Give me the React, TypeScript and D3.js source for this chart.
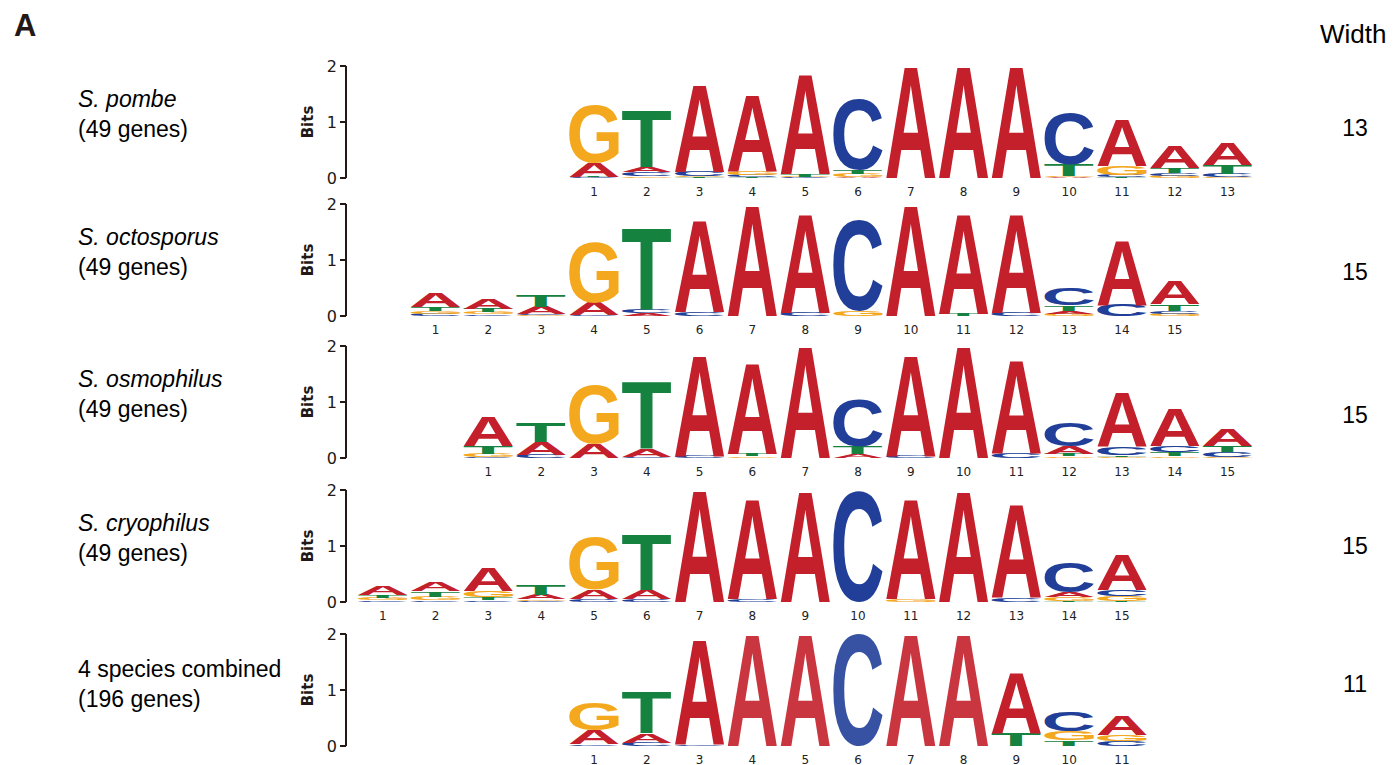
import React, { useMemo } from "react";
import * as d3 from "d3";

// bits per position, columns are [A, C, G, T]
const bases = ["A", "C", "G", "T"];
const baseColors: Record<string, string> = {
  A: "#c3202b",
  C: "#213f98",
  G: "#f4a81d",
  T: "#158240",
};

const pombeBits = [
  [0.25, 0.01, 1.03, 0.01],
  [0.1, 0.07, 0.03, 1.01],
  [1.55, 0.08, 0.02, 0.01],
  [1.36, 0.04, 0.07, 0.01],
  [1.78, 0.01, 0.01, 0.05],
  [0.02, 1.27, 0.06, 0.07],
  [1.99, 0, 0, 0],
  [1.99, 0, 0, 0],
  [1.99, 0, 0, 0],
  [0.01, 0.92, 0.03, 0.2],
  [0.83, 0.04, 0.15, 0.02],
  [0.4, 0.05, 0.04, 0.08],
  [0.4, 0.07, 0.01, 0.16],
];

const octosporusBits = [
  [0.26, 0.04, 0.05, 0.07],
  [0.18, 0.03, 0.04, 0.06],
  [0.13, 0.02, 0.01, 0.2],
  [0.23, 0.01, 1.08, 0],
  [0.05, 0.06, 0, 1.45],
  [1.65, 0.07, 0, 0],
  [1.98, 0, 0, 0],
  [1.77, 0.06, 0, 0],
  [0, 1.63, 0.08, 0],
  [1.98, 0, 0, 0],
  [1.78, 0, 0, 0.04],
  [1.77, 0.06, 0, 0],
  [0.05, 0.3, 0.04, 0.1],
  [1.17, 0.2, 0, 0],
  [0.41, 0.05, 0.04, 0.12],
];

const osmophilusBits = [
  [0.52, 0.01, 0.06, 0.14],
  [0.22, 0.06, 0, 0.35],
  [0.25, 0, 1.05, 0],
  [0.14, 0.02, 0, 1.21],
  [1.8, 0.04, 0, 0],
  [1.63, 0, 0.03, 0.04],
  [1.99, 0, 0, 0],
  [0.07, 0.85, 0, 0.14],
  [1.8, 0.04, 0, 0],
  [1.99, 0, 0, 0],
  [1.66, 0.08, 0, 0],
  [0.13, 0.41, 0.03, 0.04],
  [0.98, 0.15, 0.02, 0.03],
  [0.67, 0.11, 0.03, 0.07],
  [0.3, 0.08, 0.02, 0.11],
];

const cryophilusBits = [
  [0.15, 0.03, 0.04, 0.05],
  [0.17, 0.03, 0.06, 0.1],
  [0.42, 0.03, 0.11, 0.05],
  [0.08, 0.02, 0.03, 0.18],
  [0.17, 0.05, 0.93, 0],
  [0.16, 0.05, 0, 0.99],
  [1.99, 0, 0, 0],
  [1.79, 0.05, 0, 0],
  [1.98, 0, 0, 0],
  [0, 1.98, 0, 0],
  [1.79, 0, 0.05, 0],
  [1.98, 0, 0, 0],
  [1.66, 0.07, 0, 0],
  [0.09, 0.53, 0.07, 0.02],
  [0.62, 0.11, 0.08, 0.02],
];

const combinedBits = [
  [0.25, 0.03, 0.48, 0],
  [0.17, 0.06, 0, 0.74],
  [1.88, 0.03, 0, 0],
  [2.0, 0, 0, 0],
  [2.0, 0, 0, 0],
  [0, 2.0, 0, 0],
  [2.0, 0, 0, 0],
  [2.0, 0, 0, 0],
  [1.09, 0, 0, 0.23],
  [0, 0.34, 0.17, 0.1],
  [0.35, 0.08, 0.12, 0],
];

const speciesNames = ["S. pombe", "S. octosporus", "S. osmophilus", "S. cryophilus", "4 species combined"];
const geneCounts = ["(49 genes)", "(49 genes)", "(49 genes)", "(49 genes)", "(196 genes)"];
const motifWidths = ["13", "15", "15", "15", "11"];
const logos = [pombeBits, octosporusBits, osmophilusBits, cryophilusBits, combinedBits];
// index of the first column relative to the conserved G
const startOffsets = [0, -3, -2, -4, 0];
// faded columns in the combined logo
const fadedCols = [[], [], [], [], [4, 5, 6, 7, 8]];

const panelTops = [66, 204, 346, 490, 634];
const widthLabelY = [136, 280, 423, 554, 692];

const glyphFont = "Liberation Sans";

type Metric = { left: number; right: number; ascent: number; descent: number };

function measureGlyphs(): Record<string, Metric> {
  const out: Record<string, Metric> = {};
  const ctx = document.createElement("canvas").getContext("2d");
  bases.forEach((b) => {
    if (ctx) {
      ctx.font = `bold 100px '${glyphFont}'`;
      const m = ctx.measureText(b);
      out[b] = {
        left: m.actualBoundingBoxLeft,
        right: m.actualBoundingBoxRight,
        ascent: m.actualBoundingBoxAscent,
        descent: m.actualBoundingBoxDescent,
      };
    } else {
      out[b] = { left: -3, right: 70, ascent: 73, descent: 0 };
    }
  });
  return out;
}

function Letter({ ch, x, y, w, h, metrics, opacity }: any) {
  const m: Metric = metrics[ch];
  const sx = w / (m.left + m.right);
  const sy = h / (m.ascent + m.descent);
  return (
    <text
      transform={`translate(${x + m.left * sx},${y + m.ascent * sy}) scale(${sx},${sy})`}
      fontSize={100}
      fontFamily={glyphFont}
      fontWeight="bold"
      fill={baseColors[ch]}
      fillOpacity={opacity}
    >
      {ch}
    </text>
  );
}

function Axis({ y }: { y: d3.ScaleLinear<number, number> }) {
  const ticks = [0, 1, 2];
  const x0 = 346;
  return (
    <g fontFamily="DejaVu Sans" fontSize={16} fill="#231815">
      <line x1={x0} x2={x0} y1={y(2)} y2={y(0)} stroke="#231815" strokeWidth={2} />
      {ticks.map((t) => (
        <g key={t}>
          <line x1={x0 - 6} x2={x0} y1={y(t)} y2={y(t)} stroke="#231815" strokeWidth={2} />
          <text x={x0 - 9} y={y(t)} dy="0.36em" textAnchor="end">
            {t}
          </text>
        </g>
      ))}
      <text
        transform={`translate(${313},${y(1)}) rotate(-90)`}
        textAnchor="middle"
        fontWeight="bold"
        fontSize={15}
      >
        Bits
      </text>
    </g>
  );
}

export default function App() {
  const metrics = useMemo(measureGlyphs, []);
  const x = d3
    .scaleBand<number>()
    .domain(d3.range(-4, 13))
    .range([356.4, 1254])
    .padding(0);
  const bw = x.bandwidth();
  const lw = bw * 0.94;

  return (
    <svg width={1397} height={765} style={{ position: "absolute", left: 0, top: 0 }}>
      <rect width={1397} height={765} fill="#fff" />
      <text x={14} y={36} fontFamily="Liberation Sans" fontWeight="bold" fontSize={31} fill="#231815">
        A
      </text>
      <text x={1320} y={43} fontFamily="Liberation Sans" fontSize={26} fill="#000">
        Width
      </text>
      {logos.map((cols, pi) => {
        const y = d3.scaleLinear().domain([0, 2]).range([panelTops[pi] + 112, panelTops[pi]]);
        const italic = pi < 4;
        return (
          <g key={pi}>
            <text
              x={78}
              y={panelTops[pi] + (italic ? 41 : 43)}
              fontFamily="Liberation Sans"
              fontSize={23}
              fontStyle={italic ? "italic" : "normal"}
            >
              {speciesNames[pi]}
            </text>
            <text x={78} y={panelTops[pi] + (italic ? 71 : 73)} fontFamily="Liberation Sans" fontSize={23}>
              {geneCounts[pi]}
            </text>
            <text x={1355} y={widthLabelY[pi]} textAnchor="middle" fontFamily="Liberation Sans" fontSize={23}>
              {motifWidths[pi]}
            </text>
            <Axis y={y} />
            {cols.map((col, ci) => {
              const idx = startOffsets[pi] + ci;
              const cx = (x(idx) as number) + bw / 2;
              const stack = bases
                .map((b, bi) => ({ b, v: col[bi] }))
                .filter((d) => d.v > 0)
                .sort((a, b) => a.v - b.v);
              let acc = 0;
              const faded = (fadedCols[pi] as number[]).includes(ci + 1);
              return (
                <g key={ci}>
                  {stack.map((d) => {
                    const top = y(acc + d.v);
                    const h = y(acc) - top;
                    acc += d.v;
                    return (
                      <Letter
                        key={d.b}
                        ch={d.b}
                        x={cx - lw / 2}
                        y={top}
                        w={lw}
                        h={h}
                        metrics={metrics}
                        opacity={faded ? 0.9 : 1}
                      />
                    );
                  })}
                  <text
                    x={cx}
                    y={y(0) + 18}
                    textAnchor="middle"
                    fontFamily="DejaVu Sans"
                    fontSize={12}
                    fill="#222"
                  >
                    {ci + 1}
                  </text>
                </g>
              );
            })}
          </g>
        );
      })}
    </svg>
  );
}
